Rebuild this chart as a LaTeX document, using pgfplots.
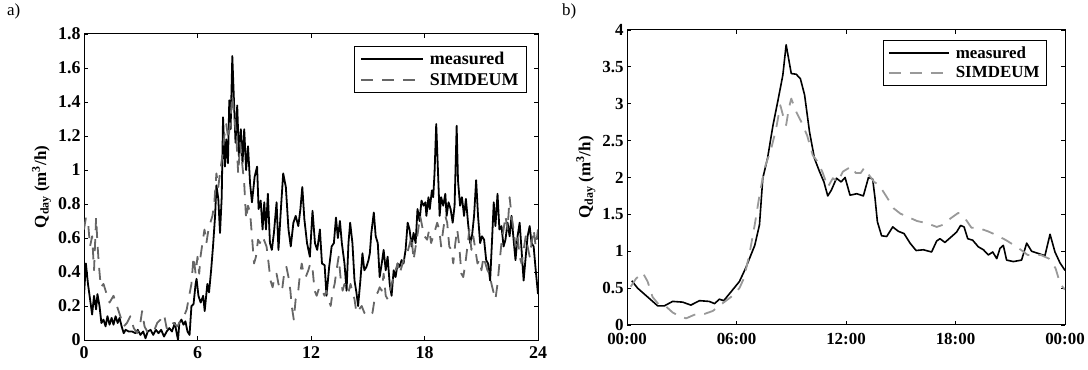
\documentclass[border=0pt]{standalone}
\usepackage{fontspec}
\setmainfont{Liberation Serif}
\usepackage{pgfplots}
\pgfplotsset{compat=1.18}
\definecolor{simA}{gray}{0.40}
\definecolor{simB}{gray}{0.60}
\pgfplotsset{
  myax/.style={
    scale only axis,
    axis line style={line width=1bp},
    every tick/.style={black, line width=0.8bp},
    major tick length=4bp,
    tick align=inside,
    tick label style={font=\bfseries\fontsize{17}{19}\selectfont, inner ysep=1bp},
    ylabel style={font=\bfseries\fontsize{17}{19}\selectfont},
    legend cell align=left,
    legend style={font=\bfseries\fontsize{18}{20}\selectfont, draw=black, line width=1bp, inner xsep=6bp, inner ysep=4bp, row sep=3bp, column sep=4bp},
    legend image code/.code={\draw[#1] (0bp,0bp) -- (62bp,0bp);},
    every axis plot/.append style={line join=round},
  }
}
\begin{document}
\begin{tikzpicture}
\useasboundingbox (0,0) rectangle (1088bp,370bp);
\node[anchor=north west, inner sep=0pt, font=\fontsize{17}{19}\selectfont] at (7bp,366bp) {a)};
\node[anchor=north west, inner sep=0pt, font=\fontsize{17}{19}\selectfont] at (562bp,366bp) {b)};
\begin{axis}[myax,
  at={(84bp,30bp)}, anchor=south west, width=454bp, height=306bp,
  tick label style={font=\bfseries\fontsize{18}{20}\selectfont, inner ysep=1bp},
  xticklabel style={yshift=-5bp},
  xmin=0, xmax=24, ymin=0, ymax=1.8,
  xtick={0,6,12,18,24}, xticklabels={0,6,12,18,24},
  ytick={0,0.2,0.4,0.6,0.8,1,1.2,1.4,1.6,1.8},
  yticklabels={0,0.2,0.4,0.6,0.8,1,1.2,1.4,1.6,1.8},
  ylabel={Q\textsubscript{day} (m\textsuperscript{3}/h)},
  legend style={at={(0.976,0.961)}, anchor=north east},
]
\addplot[black, line width=1.8bp] coordinates {
(0,0.26) (0.1,0.45) (0.21,0.33) (0.32,0.24) (0.43,0.15) (0.53,0.26) (0.64,0.18) (0.71,0.27) (0.82,0.20) (0.92,0.10)
(1.03,0.12) (1.14,0.08) (1.24,0.14) (1.35,0.09) (1.46,0.13) (1.56,0.09) (1.67,0.14) (1.78,0.10) (1.88,0.13) (1.99,0.08)
(2.1,0.04) (2.2,0.06) (2.36,0.05) (2.54,0.05) (2.72,0.04) (2.84,0.06) (2.98,0.03) (3.13,0.05) (3.25,0.01) (3.37,0.05)
(3.52,0.06) (3.66,0.03) (3.8,0.06) (3.94,0.04) (4.08,0.06) (4.23,0.02) (4.37,0.05) (4.51,0.07) (4.65,0.05) (4.8,0.10)
(4.9,0.04) (4.97,0.0) (5.04,0.10) (5.15,0.12) (5.26,0.09) (5.36,0.11) (5.47,0.05) (5.58,0.03) (5.68,0.20) (5.79,0.21)
(5.9,0.33) (5.95,0.36) (6.05,0.26) (6.17,0.22) (6.3,0.26) (6.38,0.17) (6.52,0.33) (6.61,0.28) (6.72,0.41) (6.82,0.55)
(6.93,0.73) (7.0,0.91) (7.1,0.83) (7.19,0.63) (7.28,0.84) (7.35,1.31) (7.45,1.02) (7.52,1.18) (7.61,1.04) (7.68,1.41)
(7.75,1.24) (7.84,1.67) (7.92,1.43) (8.01,1.16) (8.1,1.38) (8.19,1.08) (8.29,1.24) (8.38,1.04) (8.47,1.24) (8.57,1.00)
(8.67,1.14) (8.78,0.92) (8.88,0.81) (9.02,0.96) (9.15,1.02) (9.23,0.77) (9.34,0.82) (9.44,0.65) (9.53,0.81) (9.62,0.65)
(9.72,0.86) (9.83,0.57) (9.93,0.53) (10.04,0.63) (10.18,0.81) (10.28,0.53) (10.42,0.79) (10.53,0.98) (10.67,0.90) (10.81,0.65)
(10.93,0.55) (11.07,0.69) (11.19,0.73) (11.33,0.67) (11.44,0.77) (11.54,0.90) (11.65,0.71) (11.79,0.57) (11.94,0.49) (12.08,0.76)
(12.21,0.57) (12.33,0.53) (12.47,0.65) (12.58,0.45) (12.72,0.44) (12.82,0.26) (12.96,0.43) (13.09,0.55) (13.21,0.57) (13.32,0.72)
(13.42,0.60) (13.53,0.70) (13.63,0.57) (13.77,0.45) (13.88,0.29) (13.98,0.57) (14.07,0.69) (14.19,0.57) (14.3,0.35) (14.4,0.28)
(14.49,0.20) (14.61,0.35) (14.72,0.51) (14.82,0.41) (14.93,0.43) (15.04,0.47) (15.11,0.51) (15.19,0.63) (15.32,0.75) (15.42,0.61)
(15.53,0.57) (15.63,0.37) (15.74,0.45) (15.84,0.53) (15.95,0.41) (16.05,0.49) (16.16,0.33) (16.26,0.26) (16.37,0.41) (16.47,0.37)
(16.58,0.45) (16.68,0.43) (16.79,0.47) (16.89,0.45) (17.0,0.53) (17.11,0.69) (17.21,0.65) (17.32,0.55) (17.42,0.63) (17.53,0.57)
(17.63,0.77) (17.74,0.70) (17.84,0.82) (17.95,0.79) (18.05,0.81) (18.1,0.73) (18.21,0.84) (18.28,0.77) (18.39,0.88) (18.46,0.84)
(18.53,0.98) (18.62,1.27) (18.71,1.00) (18.8,0.73) (18.88,0.84) (18.99,0.79) (19.1,0.86) (19.17,0.73) (19.27,0.81) (19.38,0.77)
(19.49,0.69) (19.59,0.79) (19.7,1.26) (19.77,0.94) (19.88,0.79) (19.98,0.84) (20.09,0.73) (20.19,0.83) (20.3,0.69) (20.41,0.57)
(20.51,0.61) (20.62,0.73) (20.73,0.94) (20.83,0.73) (20.94,0.57) (21.04,0.61) (21.15,0.59) (21.26,0.47) (21.36,0.45) (21.47,0.35)
(21.58,0.61) (21.66,0.81) (21.75,0.67) (21.86,0.86) (21.96,0.65) (22.07,0.67) (22.18,0.55) (22.28,0.59) (22.39,0.69) (22.5,0.61)
(22.6,0.73) (22.71,0.59) (22.81,0.47) (22.92,0.61) (23.03,0.69) (23.13,0.53) (23.24,0.35) (23.35,0.49) (23.45,0.61) (23.56,0.67)
(23.66,0.57) (23.77,0.55) (23.88,0.41) (24.0,0.27)
};
\addlegendentry{measured}
\addplot[simA, line width=1.8bp, dash pattern=on 12bp off 9bp] coordinates {
(0,0.65) (0.1,0.72) (0.23,0.67) (0.32,0.55) (0.43,0.61) (0.53,0.41) (0.64,0.72) (0.71,0.57) (0.78,0.45) (0.89,0.31)
(1.03,0.33) (1.17,0.28) (1.35,0.22) (1.56,0.26) (1.74,0.20) (1.92,0.14) (2.1,0.08) (2.27,0.10) (2.45,0.14) (2.63,0.07)
(2.81,0.04) (2.98,0.10) (3.07,0.17) (3.2,0.08) (3.34,0.05) (3.52,0.06) (3.69,0.05) (3.87,0.10) (4.05,0.12) (4.23,0.15)
(4.37,0.07) (4.55,0.06) (4.72,0.10) (4.94,0.08) (5.12,0.12) (5.29,0.14) (5.43,0.18) (5.56,0.26) (5.68,0.33) (5.79,0.49)
(5.9,0.39) (6.0,0.49) (6.09,0.39) (6.16,0.49) (6.26,0.57) (6.37,0.65) (6.47,0.57) (6.58,0.65) (6.68,0.69) (6.79,0.73)
(6.89,0.81) (7.0,0.98) (7.1,0.90) (7.21,1.00) (7.31,1.08) (7.42,1.20) (7.52,1.27) (7.63,1.18) (7.73,1.28) (7.84,1.44)
(7.94,1.32) (8.05,1.20) (8.15,0.98) (8.26,1.16) (8.36,1.04) (8.47,0.92) (8.57,0.71) (8.67,0.79) (8.78,0.75) (8.88,0.61)
(8.99,0.45) (9.09,0.49) (9.2,0.59) (9.3,0.57) (9.41,0.61) (9.51,0.59) (9.65,0.55) (9.76,0.45) (9.86,0.35) (9.97,0.31)
(10.07,0.37) (10.18,0.39) (10.28,0.33) (10.39,0.29) (10.49,0.31) (10.6,0.41) (10.7,0.43) (10.81,0.37) (10.91,0.29) (10.98,0.20)
(11.09,0.12) (11.19,0.24) (11.3,0.26) (11.4,0.37) (11.51,0.45) (11.61,0.39) (11.72,0.37) (11.86,0.41) (11.96,0.45) (12.09,0.41)
(12.19,0.29) (12.3,0.26) (12.44,0.31) (12.58,0.29) (12.72,0.26) (12.82,0.29) (12.93,0.24) (13.04,0.20) (13.14,0.28) (13.25,0.33)
(13.35,0.41) (13.46,0.49) (13.56,0.37) (13.67,0.29) (13.77,0.33) (13.88,0.31) (13.98,0.28) (14.09,0.33) (14.19,0.28) (14.3,0.24)
(14.4,0.16) (14.54,0.18) (14.68,0.20) (14.82,0.16) (14.96,0.14) (15.11,0.15) (15.25,0.16) (15.39,0.26) (15.53,0.28) (15.63,0.31)
(15.74,0.29) (15.84,0.39) (15.95,0.26) (16.05,0.24) (16.16,0.28) (16.26,0.33) (16.37,0.37) (16.47,0.41) (16.58,0.45) (16.68,0.39)
(16.79,0.43) (16.89,0.47) (17.04,0.49) (17.18,0.55) (17.32,0.61) (17.42,0.47) (17.56,0.57) (17.67,0.65) (17.77,0.73) (17.91,0.65)
(18.0,0.61) (18.14,0.59) (18.25,0.65) (18.35,0.57) (18.46,0.61) (18.57,0.65) (18.67,0.69) (18.78,0.65) (18.88,0.55) (18.99,0.65)
(19.1,0.73) (19.2,0.69) (19.31,0.55) (19.42,0.53) (19.52,0.45) (19.63,0.57) (19.73,0.65) (19.84,0.55) (19.95,0.39) (20.05,0.37)
(20.16,0.45) (20.27,0.55) (20.37,0.65) (20.48,0.53) (20.58,0.61) (20.69,0.53) (20.8,0.45) (20.9,0.47) (21.01,0.41) (21.12,0.49)
(21.22,0.45) (21.33,0.41) (21.43,0.39) (21.54,0.33) (21.65,0.28) (21.75,0.24) (21.86,0.33) (21.96,0.45) (22.07,0.57) (22.18,0.65)
(22.28,0.73) (22.39,0.65) (22.5,0.84) (22.6,0.73) (22.71,0.65) (22.81,0.55) (22.92,0.61) (23.03,0.49) (23.13,0.45) (23.24,0.53)
(23.35,0.61) (23.45,0.55) (23.56,0.49) (23.66,0.57) (23.77,0.65) (23.88,0.55) (24.0,0.65)
};
\addlegendentry{SIMDEUM}
\end{axis}
\begin{axis}[myax,
  at={(627bp,45bp)}, anchor=south west, width=438bp, height=295bp,
  xticklabel style={yshift=-7bp},
  xmin=0, xmax=24, ymin=0, ymax=4,
  xtick={0,6,12,18,24}, xticklabels={00:00,06:00,12:00,18:00,00:00},
  ytick={0,0.5,1,1.5,2,2.5,3,3.5,4},
  yticklabels={0,0.5,1,1.5,2,2.5,3,3.5,4},
  ylabel={Q\textsubscript{day} (m\textsuperscript{3}/h)},
  legend style={at={(0.959,0.966)}, anchor=north east, font=\bfseries\fontsize{17}{19}\selectfont, inner xsep=5bp},
  legend image code/.code={\draw[#1] (0bp,0bp) -- (60bp,0bp);},
]
\addplot[black, line width=1.6bp] coordinates {
(0.26,0.60) (0.58,0.50) (1.13,0.38) (1.68,0.26) (2.05,0.26) (2.5,0.32) (3.05,0.31) (3.5,0.27) (3.97,0.33) (4.5,0.32)
(4.8,0.29) (5.06,0.35) (5.3,0.33) (5.7,0.45) (6.16,0.59) (6.5,0.77) (7.0,1.08) (7.26,1.36) (7.44,1.99) (7.7,2.26)
(8.0,2.71) (8.26,3.03) (8.54,3.39) (8.72,3.80) (9.0,3.41) (9.27,3.40) (9.5,3.34) (9.73,3.12) (10.0,2.62) (10.27,2.26)
(10.55,2.08) (10.79,1.94) (11.0,1.75) (11.2,1.83) (11.48,1.99) (11.73,1.94) (11.95,2.0) (12.22,1.76) (12.59,1.78) (12.95,1.75)
(13.23,2.0) (13.46,1.98) (13.59,1.72) (13.72,1.40) (13.95,1.21) (14.23,1.20) (14.56,1.33) (14.87,1.27) (15.18,1.24) (15.51,1.11)
(15.84,1.01) (16.24,1.02) (16.69,0.99) (16.97,1.14) (17.15,1.17) (17.42,1.12) (17.79,1.20) (18.06,1.26) (18.28,1.35) (18.47,1.33)
(18.67,1.17) (18.94,1.15) (19.25,1.06) (19.53,1.02) (19.8,0.95) (20.04,0.99) (20.26,0.90) (20.44,1.04) (20.62,1.08) (20.8,0.88)
(21.17,0.86) (21.62,0.88) (21.9,1.11) (22.17,1.00) (22.54,0.97) (22.9,0.94) (23.18,1.23) (23.45,0.99) (23.73,0.84) (24.0,0.74)
};
\addlegendentry{measured}
\addplot[simB, line width=1.8bp, dash pattern=on 12bp off 9bp] coordinates {
(0.2,0.52) (0.5,0.63) (0.86,0.71) (1.13,0.59) (1.4,0.38) (1.77,0.27) (2.14,0.25) (2.5,0.17) (2.87,0.12) (3.24,0.09)
(3.7,0.14) (4.24,0.15) (4.7,0.19) (5.16,0.28) (5.7,0.38) (6.16,0.50) (6.4,0.63) (6.7,0.95) (7.0,1.36) (7.26,1.76)
(7.53,2.12) (7.9,2.39) (8.17,2.66) (8.4,2.98) (8.54,2.85) (8.72,2.71) (8.87,2.94) (9.0,3.07) (9.27,2.89) (9.54,2.76)
(9.87,2.57) (10.18,2.30) (10.46,2.21) (10.73,2.06) (11.0,1.87) (11.28,1.99) (11.55,1.94) (11.83,2.08) (12.1,2.12) (12.27,2.15)
(12.54,2.06) (12.8,2.06) (13.0,2.13) (13.27,2.03) (13.54,1.94) (13.8,1.90) (14.17,1.76) (14.62,1.58) (14.98,1.51) (15.35,1.47)
(15.89,1.41) (16.43,1.38) (16.97,1.33) (17.33,1.36) (17.7,1.44) (18.15,1.52) (18.51,1.45) (18.87,1.32) (19.32,1.31) (19.78,1.27)
(20.23,1.22) (20.77,1.15) (21.22,1.08) (21.58,1.02) (21.95,0.95) (22.3,0.95) (22.67,0.95) (23.12,0.90) (23.48,0.77) (23.75,0.55)
(24.0,0.48)
};
\addlegendentry{SIMDEUM}
\end{axis}
\end{tikzpicture}
\end{document}
